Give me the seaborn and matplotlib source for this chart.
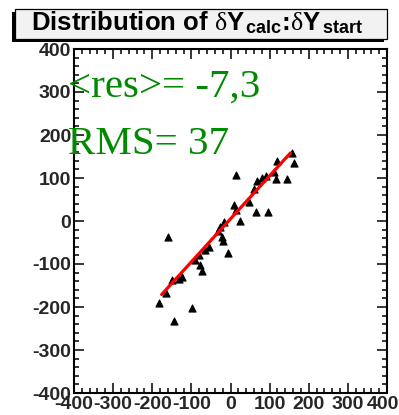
import numpy as np
import pandas as pd
import matplotlib
matplotlib.use("Agg")
import matplotlib.pyplot as plt
from matplotlib.patches import Rectangle
from matplotlib.ticker import MultipleLocator
import matplotlib.transforms as mtransforms
import seaborn as sns

# Measured residual pairs: dY_start (x) vs dY_calc (y)
dy_start = [157.8, 161.9, 119.4, 12.8, 68.3, 81.1, 89.5, 115.1, 145.0, 111.0,
            59.8, 47.0, 8.4, 12.8, 63.9, 96.4, 23.8, -17.1, -25.6, -32.5,
            -21.2, -18.7, -6.9, -55.5, -64.0, -81.1, -89.5, -76.7, -72.4, -160.4,
            -123.5, -149.1, -132.2, -163.7, -183.4, -98.0, -145.1]
dy_calc = [157.4, 135.6, 140.2, 107.0, 93.7, 99.3, 104.7, 97.0, 97.0, 114.7,
           73.7, 44.9, 37.2, 25.6, 21.6, 21.6, 0.7, -1.6, -14.7, -22.6,
           -36.5, -45.8, -73.7, -59.8, -67.4, -79.0, -90.7, -102.3, -116.3, -37.9,
           -129.5, -137.2, -135.6, -166.7, -190.0, -201.6, -232.6]

# Linear fit drawn over the data range
fit_slope = 1.0
fit_intercept = 5.0
fit_range = [-176.0, 153.0]

mean_res = "-7,3"
rms = "37"

axis_ticks = [-400, -300, -200, -100, 0, 100, 200, 300, 400]

df = pd.DataFrame({"start": dy_start, "calc": dy_calc})
fit_x = np.array(fit_range)
fit_df = pd.DataFrame({"start": fit_x, "calc": fit_slope * fit_x + fit_intercept})

sns.set_style("ticks")
plt.rcParams["font.family"] = ["Liberation Sans", "DejaVu Sans"]
plt.rcParams["mathtext.fontset"] = "custom"
plt.rcParams["mathtext.rm"] = "Liberation Sans:bold"
plt.rcParams["mathtext.bf"] = "Liberation Sans:bold"
plt.rcParams["mathtext.it"] = "Liberation Serif"

W, H = 399, 415
fig = plt.figure(figsize=(W / 100, H / 100), dpi=100)
fig.patch.set_facecolor("white")

left, right, top, bottom = 74, 387, 49, 393
ax = fig.add_axes([left / W, 1 - bottom / H, (right - left) / W, (bottom - top) / H])

sns.scatterplot(data=df, x="start", y="calc", ax=ax, color="black",
                marker="^", s=26, edgecolor="black", linewidth=0.8, zorder=3)
sns.lineplot(data=fit_df, x="start", y="calc", ax=ax, color="#ff0000",
             linewidth=2.3, zorder=4)

ax.set_xlim(-400, 400)
ax.set_ylim(-400, 400)
ax.set_xlabel("")
ax.set_ylabel("")
ax.set_xticks(axis_ticks)
ax.set_yticks(axis_ticks)
ax.xaxis.set_minor_locator(MultipleLocator(20))
ax.yaxis.set_minor_locator(MultipleLocator(20))
ax.set_xticklabels([str(t) for t in axis_ticks])
ax.set_yticklabels([str(t) for t in axis_ticks])

for sp in ax.spines.values():
    sp.set_visible(True)
    sp.set_linewidth(1.5)
    sp.set_color("black")

ax.tick_params(which="both", direction="in", top=True, right=True,
               color="black", width=1.1)
ax.tick_params(which="major", length=7.5)
ax.tick_params(which="minor", length=3.6)
ax.tick_params(axis="x", which="major", pad=2.5)
ax.tick_params(axis="y", which="major", pad=2)
for lab in ax.get_xticklabels() + ax.get_yticklabels():
    lab.set_fontweight("bold")
    lab.set_fontsize(14)
    lab.set_family(["Liberation Sans", "DejaVu Sans"])

# keep the rightmost x label inside the canvas
last = ax.get_xticklabels()[-1]
last.set_transform(last.get_transform() +
                   mtransforms.ScaledTranslation(-4 / 100, 0, fig.dpi_scale_trans))

# Statistics text
green = "#008a00"
ax.text(-415, 290, "<res>= " + mean_res, color=green, fontsize=29.5,
        family=["Liberation Serif", "DejaVu Serif"], va="baseline", ha="left",
        zorder=5, clip_on=False)
ax.text(-415, 155, "RMS= " + rms, color=green, fontsize=29.5,
        family=["Liberation Serif", "DejaVu Serif"], va="baseline", ha="left",
        zorder=5, clip_on=False)

# Title box with drop shadow
shadow = Rectangle((12 / W, 1 - 42 / H), (372) / W, (30) / H,
                   transform=fig.transFigure, facecolor="black",
                   edgecolor="none", zorder=1)
box = Rectangle((15 / W, 1 - 39 / H), (372) / W, (30) / H,
                transform=fig.transFigure, facecolor="#f2f2f2",
                edgecolor="black", linewidth=0.9, zorder=2)
fig.patches.extend([shadow, box])
fig.text(197 / W, 1 - 30 / H,
         r"Distribution of $\delta$Y$_{\rm \,calc}$:$\delta$Y$_{\rm \,start}$",
         ha="center", va="baseline", fontsize=18.5, fontweight="bold",
         color="black", zorder=3)

fig.savefig("out.png", dpi=100)
